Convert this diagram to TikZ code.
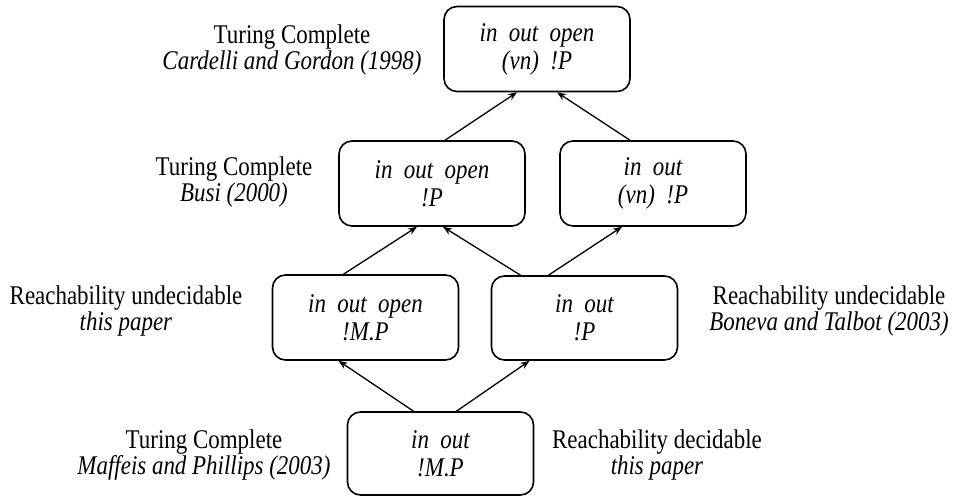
\documentclass[tikz,border=0pt]{standalone}
\usepackage{fontspec}
\setmainfont{Liberation Serif}[FakeStretch=0.85]
\usetikzlibrary{arrows.meta}
\begin{document}
\begin{tikzpicture}[x=1pt,y=-1pt,
  calc/.style={draw,line width=1.6pt,rounded corners=13pt,minimum width=186pt,minimum height=85pt,align=center,inner sep=0pt,
    font=\fontsize{27}{28}\selectfont\itshape},
  side/.style={align=center,inner sep=0pt,font=\fontsize{27}{26}\selectfont},
  arr/.style={line width=1.3pt,-{Stealth[length=9pt,width=7pt]}}]
\useasboundingbox (0,0) rectangle (954,496);
\node[calc] (top) at (537,49) {in\ \ out\ \ open\\(vn)\ \ !P};
\node[calc] (l2l) at (432,183.5) {in\ \ out\ \ open\\!P};
\node[calc] (l2r) at (653,183.5) {in\ \ out\\(vn)\ \ !P};
\node[calc,minimum height=85pt] (l3l) at (365.5,317.5) {in\ \ out\ \ open\\!M.P};
\node[calc,minimum height=84pt] (l3r) at (584.5,318) {in\ \ out\\!P};
\node[calc,minimum height=83pt] (bot) at (440.5,453.5) {in\ \ out\\!M.P};
\node[side] (t1) at (292,50) {Turing Complete\\\textit{Cardelli and Gordon (1998)}};
\node[side] (t2) at (234,182) {Turing Complete\\\textit{Busi (2000)}};
\node[side] (t3) at (126,311) {Reachability undecidable\\\textit{this paper}};
\node[side] (t4) at (829,311) {Reachability undecidable\\\textit{Boneva and Talbot (2003)}};
\node[side] (t5) at (204,455) {Turing Complete\\\textit{Maffeis and Phillips (2003)}};
\node[side] (t6) at (657,455) {Reachability decidable\\\textit{this paper}};
\draw[arr] ([xshift=13pt]l2l.north) -- ([xshift=-20pt]top.south);
\draw[arr] ([xshift=-23pt]l2r.north) -- ([xshift=20pt]top.south);
\draw[arr] ([xshift=-22pt]l3l.north) -- ([xshift=-15pt]l2l.south);
\draw[arr] ([xshift=-64pt]l3r.north) -- ([xshift=11pt]l2l.south);
\draw[arr] ([xshift=-36pt]l3r.north) -- ([xshift=-31pt]l2r.south);
\draw[arr] ([xshift=-27pt]bot.north) -- ([xshift=-27pt]l3l.south);
\draw[arr] ([xshift=16pt]bot.north) -- ([xshift=-55pt]l3r.south);
\end{tikzpicture}
\end{document}
